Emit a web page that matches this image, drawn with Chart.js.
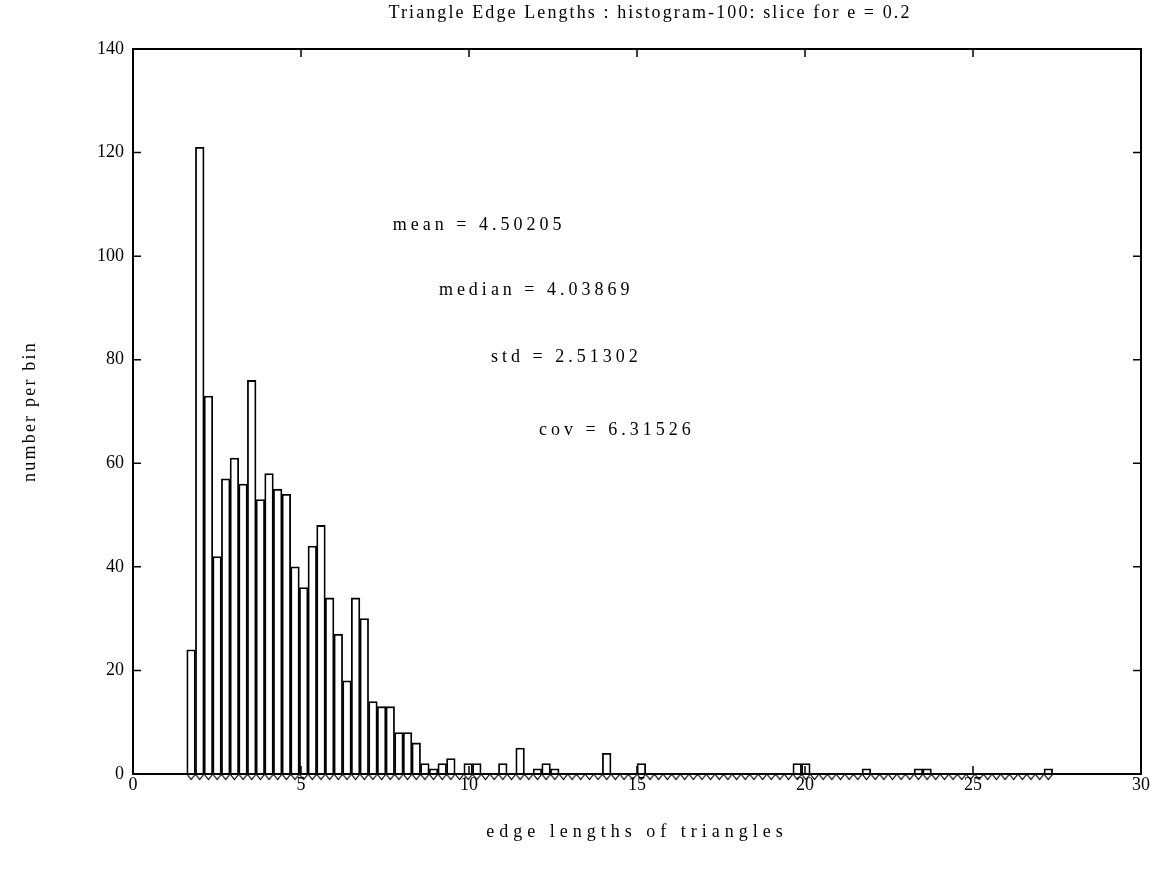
<!DOCTYPE html>
<html>
<head>
<meta charset="utf-8">
<title>Triangle Edge Lengths</title>
<script src="https://cdn.jsdelivr.net/npm/chart.js@4.4.1/dist/chart.umd.min.js"></script>
<style>
  html, body { margin: 0; padding: 0; background: #fff; }
  #wrap { width: 1160px; height: 877px; }
</style>
</head>
<body>
<div id="wrap"><canvas id="hist" width="1160" height="877"></canvas></div>
<script>
// --- data ---
const binMin = 1.6;      // left edge of first bin
const binMax = 27.37;    // right edge of last bin
const binCounts = [
  24, 121, 73, 42, 57, 61, 56, 76, 53, 58,
  55, 54, 40, 36, 44, 48, 34, 27, 18, 34,
  30, 14, 13, 13, 8, 8, 6, 2, 1, 2,
  3, 0, 2, 2, 0, 0, 2, 0, 5, 0,
  1, 2, 1, 0, 0, 0, 0, 0, 4, 0,
  0, 0, 2, 0, 0, 0, 0, 0, 0, 0,
  0, 0, 0, 0, 0, 0, 0, 0, 0, 0,
  2, 2, 0, 0, 0, 0, 0, 0, 1, 0,
  0, 0, 0, 0, 1, 1, 0, 0, 0, 0,
  0, 0, 0, 0, 0, 0, 0, 0, 0, 1
];
const xTicks = [0, 5, 10, 15, 20, 25, 30];
const yTicks = [0, 20, 40, 60, 80, 100, 120, 140];

const statLabels = ['mean = 4.50205', 'median = 4.03869', 'std = 2.51302', 'cov = 6.31526'];
const statX = [10.3, 12.0, 12.9, 14.4];
const statY = [106, 93.4, 80.5, 66.4];

const titleText = 'Triangle Edge Lengths : histogram-100: slice for e = 0.2';
const xTitle = 'edge lengths of triangles';
const yTitle = 'number per bin';

// bin centres (histogram with binCounts.length equal bins)
const binWidth = (binMax - binMin) / binCounts.length;
const binCenters = binCounts.map((_, i) => binMin + (i + 0.5) * binWidth);

const FONT = "'Liberation Serif', 'DejaVu Serif', serif";

// little downward triangle sitting under the baseline
const markerImg = document.createElement('canvas');
markerImg.width = 9;
markerImg.height = 14;
const m = markerImg.getContext('2d');
m.strokeStyle = '#000';
m.lineWidth = 1.2;
m.beginPath();
m.moveTo(0.5, 7.5);
m.lineTo(8.5, 7.5);
m.lineTo(4.5, 12.5);
m.closePath();
m.stroke();

// box, inward ticks and the texts
const framePlugin = {
  id: 'frame',
  afterDraw(chart) {
    const { ctx, chartArea: a, scales } = chart;
    ctx.save();
    ctx.strokeStyle = '#000';
    ctx.lineWidth = 2;
    ctx.strokeRect(a.left, a.top, a.right - a.left, a.bottom - a.top);

    const tl = 8;
    ctx.lineWidth = 1.5;
    ctx.beginPath();
    xTicks.forEach(v => {
      const px = scales.x.getPixelForValue(v);
      ctx.moveTo(px, a.bottom); ctx.lineTo(px, a.bottom - tl);
      ctx.moveTo(px, a.top); ctx.lineTo(px, a.top + tl);
    });
    yTicks.forEach(v => {
      const py = scales.y.getPixelForValue(v);
      ctx.moveTo(a.left, py); ctx.lineTo(a.left + tl, py);
      ctx.moveTo(a.right, py); ctx.lineTo(a.right - tl, py);
    });
    ctx.stroke();

    ctx.fillStyle = '#000';
    ctx.textAlign = 'center';
    ctx.textBaseline = 'middle';
    ctx.font = '18px ' + FONT;

    ctx.letterSpacing = '2.1px';
    ctx.fillText(titleText, 650, 13);

    ctx.letterSpacing = '5px';
    ctx.fillText(xTitle, (a.left + a.right) / 2, 832);

    ctx.save();
    ctx.translate(30, (a.top + a.bottom) / 2);
    ctx.rotate(-Math.PI / 2);
    ctx.letterSpacing = '2.2px';
    ctx.fillText(yTitle, 0, 0);
    ctx.restore();

    ctx.letterSpacing = '4px';
    statLabels.forEach((t, i) => {
      ctx.fillText(t, scales.x.getPixelForValue(statX[i]), scales.y.getPixelForValue(statY[i]));
    });
    ctx.restore();
  }
};

const tickFont = { family: FONT, size: 18 };

new Chart(document.getElementById('hist').getContext('2d'), {
  type: 'bar',
  data: {
    datasets: [{
      type: 'bar',
      data: binCenters.map((c, i) => ({ x: c, y: binCounts[i] })),
      backgroundColor: '#fff',
      borderColor: '#000',
      borderWidth: 1.8,
      barPercentage: 1,
      categoryPercentage: 1,
      order: 2
    }, {
      type: 'scatter',
      data: binCenters.map(c => ({ x: c, y: 0 })),
      pointStyle: markerImg,
      pointRadius: 4,
      showLine: false,
      clip: false,
      order: 1
    }]
  },
  options: {
    responsive: false,
    animation: false,
    devicePixelRatio: 1,
    layout: { padding: { top: 49, right: 19, bottom: 0, left: 0 } },
    plugins: {
      legend: { display: false },
      tooltip: { enabled: false }
    },
    scales: {
      x: {
        type: 'linear',
        min: 0,
        max: 30,
        offset: false,
        afterBuildTicks: s => { s.ticks = xTicks.map(v => ({ value: v })); },
        ticks: { color: '#000', font: tickFont, padding: 0, maxRotation: 0 },
        grid: { display: false, drawTicks: false, offset: false },
        border: { display: false },
        afterFit: s => { s.height = 103; }
      },
      y: {
        type: 'linear',
        min: 0,
        max: 140,
        afterBuildTicks: s => { s.ticks = yTicks.map(v => ({ value: v })); },
        ticks: { color: '#000', font: tickFont, padding: 9 },
        grid: { display: false, drawTicks: false },
        border: { display: false },
        afterFit: s => { s.width = 133; }
      }
    }
  },
  plugins: [framePlugin]
});
</script>
</body>
</html>
